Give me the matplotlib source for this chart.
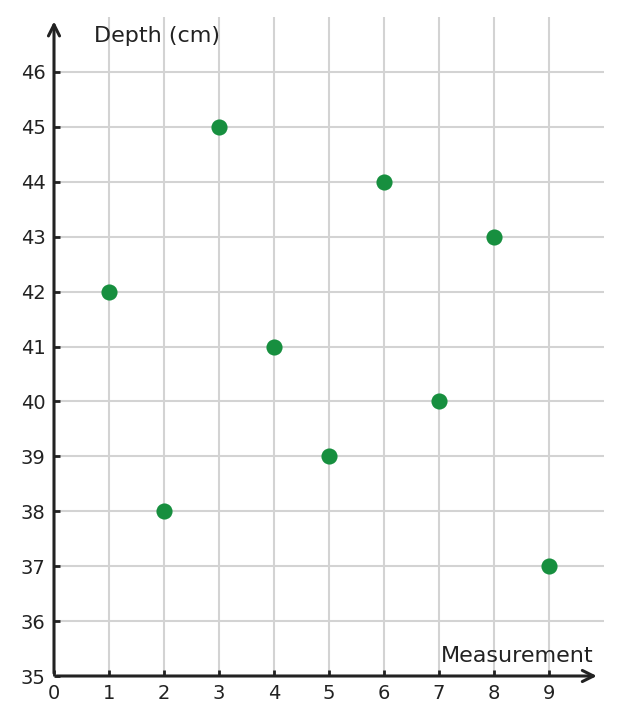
import matplotlib
matplotlib.use("Agg")
import matplotlib.pyplot as plt

measurement = [1, 2, 3, 4, 5, 6, 7, 8, 9]
depth = [42, 38, 45, 41, 39, 44, 40, 43, 37]
x_ticks = [0, 1, 2, 3, 4, 5, 6, 7, 8, 9]
y_ticks = [35, 36, 37, 38, 39, 40, 41, 42, 43, 44, 45, 46]

ink = "#222222"
fig = plt.figure(figsize=(6.21, 7.25), dpi=100)
ax = fig.add_axes([54 / 621, 49 / 725, 550 / 621, 659 / 725])
ax.set_xlim(0, 10)
ax.set_ylim(35, 47)

for s in ax.spines.values():
    s.set_visible(False)

# grid
for x in x_ticks[1:]:
    ax.plot([x, x], [35, 47], color="#d3d3d3", lw=1.5, zorder=1)
for y in y_ticks[1:]:
    ax.plot([0, 10], [y, y], color="#d3d3d3", lw=1.5, zorder=1)

# axis arrows
ax.annotate("", xy=(9.87, 35), xytext=(0.05, 35),
            arrowprops=dict(arrowstyle="->", color=ink, lw=2.2,
                            mutation_scale=20, shrinkA=0, shrinkB=0),
            annotation_clip=False, zorder=3)
ax.annotate("", xy=(0, 46.92), xytext=(0, 35.05),
            arrowprops=dict(arrowstyle="->", color=ink, lw=2.2,
                            mutation_scale=20, shrinkA=0, shrinkB=0),
            annotation_clip=False, zorder=3)

ax.scatter(measurement, depth, s=135, color="#178f3f", zorder=4,
           linewidths=0)

ax.set_xticks(x_ticks)
ax.set_yticks(y_ticks)
ax.tick_params(direction="in", length=4, width=2, color=ink,
               labelsize=14, labelcolor=ink, pad=6)
ax.tick_params(axis="x", pad=6)

ax.text(0.73, 46.65, "Depth (cm)", fontsize=16, color=ink,
        ha="left", va="center")
ax.text(9.8, 35.37, "Measurement", fontsize=16, color=ink,
        ha="right", va="center")

fig.savefig("out.png", dpi=100)
